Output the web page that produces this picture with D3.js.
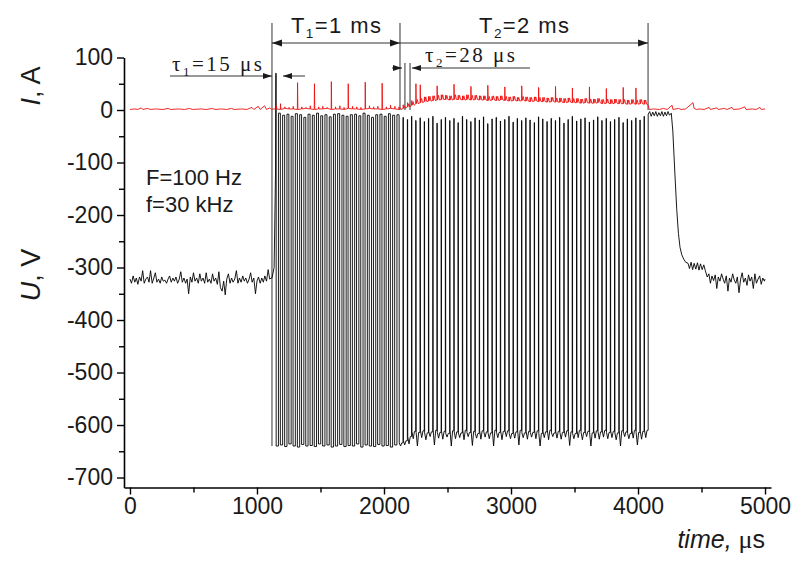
<!DOCTYPE html>
<html><head><meta charset="utf-8">
<script src="https://cdn.jsdelivr.net/npm/d3@7"></script>
<style>body{margin:0;background:#fff}svg{display:block}</style>
</head><body>
<svg id="chart" width="801" height="562"></svg>
<script>
// ---------------- DATA ----------------
const xTicksMajor = [0, 1000, 2000, 3000, 4000, 5000];
const xTicksMinor = [500, 1500, 2500, 3500, 4500];
const yTicksMajor = [100, 0, -100, -200, -300, -400, -500, -600, -700];
const yTicksMinor = [50, -50, -150, -250, -350, -450, -550, -650];

// voltage before the pulse train [time µs, U V]
const preVolt = [[0,-322],[12,-330],[25,-316],[38,-328],[50,-320],[62,-332],[75,-318],[88,-326],[100,-306],[112,-330],
 [125,-322],[138,-318],[150,-328],[162,-306],[175,-330],[188,-320],[200,-310],[212,-328],[225,-322],[238,-330],
 [250,-318],[262,-326],[275,-324],[288,-330],[300,-322],[312,-316],[325,-328],[338,-320],[350,-326],[362,-318],
 [375,-330],[388,-322],[400,-308],[412,-328],[425,-320],[438,-330],[450,-322],[462,-350],[475,-318],[488,-328],
 [500,-310],[512,-326],[525,-320],[538,-330],[550,-312],[562,-326],[575,-320],[588,-330],[600,-310],[612,-328],
 [625,-322],[638,-330],[650,-312],[662,-326],[675,-320],[688,-332],[700,-308],[712,-338],[725,-345],[738,-326],
 [750,-352],[762,-322],[775,-312],[788,-330],[800,-320],[812,-328],[825,-322],[838,-306],[850,-330],[862,-320],
 [875,-328],[888,-316],[900,-326],[912,-320],[925,-330],[938,-322],[950,-310],[962,-328],[975,-320],[988,-350],
 [1000,-326],[1012,-318],[1025,-330],[1038,-320],[1050,-328],[1062,-316],[1075,-326],[1088,-304],[1100,-322],[1112,-320]];
// leading edge of the train
const leadVolt = [[1118,-320],[1135,-300],[1146,-118],[1148,70],[1151,70]];

// T1 section pulses (30 kHz)
const pulseT1 = [1151,1184,1218,1251,1284,1318,1351,1384,1418,1451,
 1484,1517,1551,1584,1617,1651,1684,1717,1751,1784,
 1817,1851,1884,1917,1950,1984,2017,2050,2084];
const voltHighT1 = [-6,-10,-8,-12,-7,-9,-14,-8,-10,-6, -11,-9,-13,-8,-7,-10,-12,-9,-8,-11, -6,-10,-14,-9,-8,-12,-7,-10,-9];
const voltLowT1 = [-640,-638,-641,-636,-640,-642,-637,-640,-639,-641, -636,-640,-638,-642,-640,-637,-641,-639,-640,-636, -642,-638,-640,-641,-637,-640,-639,-642,-638];
const curBaseT1 = [2,1,3,2,2,1,2,3,2,1, 2,2,3,1,2,2,1,3,2,2, 1,2,3,2,2,1,2,3,2];
const curPeakT1 = [8,12,6,5,7,52,6,5,8,50, 6,7,5,54,6,8,5,50,7,6, 5,53,8,6,7,51,6,9,7];

// T2 section pulses
const pulseT2 = [2117,2150,2184,2217,2250,2284,2317,2350,2384,2417,
 2450,2483,2517,2550,2583,2617,2650,2683,2716,2750,
 2783,2816,2850,2883,2916,2950,2983,3016,3049,3083,
 3116,3149,3183,3216,3249,3283,3316,3349,3382,3416,
 3449,3482,3516,3549,3582,3616,3649,3682,3715,3749,
 3782,3815,3849,3882,3915,3949,3982,4015,4048];
const voltHighT2 = [-10,-14,-18,-12,-20,-15,-22,-16,-12,-25, -18,-14,-20,-16,-24,-12,-18,-22,-15,-19,
 -13,-26,-17,-14,-21,-18,-12,-23,-16,-20, -15,-19,-24,-13,-17,-22,-16,-20,-14,-25,
 -18,-12,-21,-17,-15,-23,-19,-13,-20,-16, -22,-18,-14,-24,-17,-20,-15,-19,-12];
const voltLowAT2 = [-634,-630,-622,-612,-614,-611,-615,-613,-610,-614, -612,-616,-611,-613,-615,-610,-614,-612,-616,-611,
 -613,-615,-610,-614,-612,-611,-616,-613,-610,-615, -612,-614,-611,-616,-613,-610,-615,-612,-614,-611,
 -613,-616,-610,-614,-612,-615,-611,-613,-610,-614, -612,-615,-611,-613,-616,-610,-614,-612,-610];
const voltLowBT2 = [-640,-638,-636,-626,-640,-624,-628,-622,-638,-625, -627,-623,-640,-626,-624,-628,-622,-639,-625,-627,
 -623,-626,-640,-624,-628,-622,-626,-625,-638,-624, -627,-623,-626,-640,-624,-628,-622,-625,-627,-623,
 -639,-626,-624,-628,-622,-640,-625,-627,-623,-626, -624,-628,-640,-622,-626,-625,-638,-627,-624];
const curBaseT2 = [1,3,6,9,12,14,16,17,18,19, 20,20,19,20,20,19,20,19,20,19,
 19,18,19,18,19,18,17,18,17,18, 17,16,17,16,16,15,16,15,15,14,
 15,14,14,13,14,13,13,14,12,13, 12,13,12,12,11,12,11,12,11];
const curRipT2 = [4,8,12,16,20,22,25,26,27,28, 29,28,27,29,28,27,29,28,28,27,
 27,26,27,26,27,26,25,26,24,26, 25,24,25,24,24,23,24,23,23,22,
 23,22,22,21,22,21,21,22,20,21, 20,21,20,20,19,20,19,20,19];
const curPeakT2 = [6,10,14,18,50,48,25,26,27,46, 29,28,27,49,28,27,29,45,28,27,
 27,47,26,26,27,44,25,26,24,46, 25,24,25,43,24,23,24,45,23,22,
 23,42,22,21,22,44,21,22,20,41, 20,21,20,43,19,20,42,20,19];

// voltage after the train
const postVolt = [[4080,-8],[4092,-3],[4104,-12],[4116,-4],[4128,-11],[4140,-3],[4152,-12],[4164,-5],[4176,-11],[4188,-3],
 [4200,-12],[4212,-4],[4224,-11],[4236,-3],[4248,-10],[4262,-6],[4274,-40],[4290,-120],[4305,-190],[4318,-235],
 [4331,-262],[4345,-276],[4360,-284],[4375,-290],[4394,-292],[4405,-302],[4418,-290],[4430,-304],[4442,-292],[4455,-303],
 [4468,-291],[4480,-305],[4492,-293],[4505,-304],[4518,-295],[4530,-306],[4545,-318],[4558,-312],[4570,-330],[4582,-316],
 [4595,-325],[4608,-314],[4620,-340],[4632,-318],[4645,-326],[4658,-312],[4670,-322],[4682,-330],[4695,-316],[4708,-345],
 [4720,-320],[4732,-328],[4745,-312],[4758,-324],[4770,-330],[4782,-318],[4795,-348],[4808,-322],[4820,-310],[4832,-328],
 [4845,-320],[4858,-334],[4870,-314],[4882,-326],[4895,-318],[4908,-340],[4920,-312],[4932,-330],[4945,-322],[4958,-316],
 [4970,-332],[4982,-320],[4995,-326],[5000,-322]];

// current before / after the train [time µs, I A]
const preCur = [[0,1],[40,2],[60,1],[90,4],[100,1],[140,3],[160,1],[200,2],[260,1],[300,3],[320,1],[380,2],[430,1],
 [470,3],[490,1],[560,2],[600,1],[650,3],[670,1],[720,2],[760,1],[800,3],[820,1],[880,2],[920,1],[960,5],[975,1],
 [1010,7],[1025,1],[1060,8],[1075,1],[1100,4],[1115,1],[1130,2],[1151,2]];
const postCur = [[4080,9],[4088,1],[4120,2],[4170,1],[4200,3],[4230,1],[4268,9],[4275,1],[4320,3],[4340,1],[4375,2],
 [4433,14],[4442,3],[4460,1],[4480,2],[4520,1],[4560,5],[4570,1],[4620,4],[4630,1],[4680,3],[4700,1],[4740,5],[4750,1],
 [4800,2],[4840,6],[4850,1],[4900,2],[4930,1],[4960,5],[4970,1],[5000,2]];

// annotation times
const markT = [1118, 2126, 4079];      // T1 start, T1/T2 boundary, T2 end
const tau1Marks = [315, 1118, 1205, 1378];
const tau2Marks = [2063, 2142, 2165, 2205, 2220, 3150];

// ---------------- CHART ----------------
const svg = d3.select('#chart');
const x = d3.scaleLinear().domain([-47, 5047]).range([124, 771]);
const y = d3.scaleLinear().domain([-719, 100]).range([487.5, 57.5]);
const SANS = '"Liberation Sans", Arial, sans-serif';
const SERIF = '"Liberation Serif", "Times New Roman", serif';

// build voltage path
const vPts = [];
const push = (arr, t, v) => arr.push([t, v]);
const hold = (arr, t) => arr.push([t, arr[arr.length - 1][1]]);
preVolt.forEach(p => vPts.push(p));
leadVolt.forEach(p => vPts.push(p));
pulseT1.forEach((t, k) => {
  hold(vPts, t);
  push(vPts, t, voltLowT1[k]);
  push(vPts, t + 18, voltLowT1[k]);
  push(vPts, t + 18, voltHighT1[k]);
});
pulseT2.forEach((t, k) => {
  hold(vPts, t);
  push(vPts, t, voltHighT2[k]);
  push(vPts, t + 2, voltHighT2[k]);
  push(vPts, t + 3, voltLowAT2[k]);
  push(vPts, t + 13, voltLowBT2[k]);
  push(vPts, t + 23, voltLowAT2[k]);
});
hold(vPts, 4080);
postVolt.forEach(p => vPts.push(p));

// build current path
const cPts = [];
preCur.forEach(p => cPts.push(p));
pulseT1.forEach((t, k) => {
  push(cPts, t, curBaseT1[k]);
  push(cPts, t + 1.5, curPeakT1[k]);
  push(cPts, t + 4, curBaseT1[k]);
});
pulseT2.forEach((t, k) => {
  push(cPts, t, curBaseT2[k]);
  push(cPts, t + 1.5, curPeakT2[k]);
  push(cPts, t + 4, curBaseT2[k]);
  push(cPts, t + 12, curRipT2[k]);
  push(cPts, t + 20, curBaseT2[k]);
});
postCur.forEach(p => cPts.push(p));

const line = d3.line().x(d => x(d[0])).y(d => y(d[1]));

const ink = '#1a1a1a';
// annotation vertical marker lines
const gA = svg.append('g').attr('stroke', '#333').attr('stroke-width', 1).attr('fill', 'none');
gA.append('line').attr('x1', x(markT[0])).attr('x2', x(markT[0])).attr('y1', 23).attr('y2', y(-640));
gA.append('line').attr('x1', x(markT[1])).attr('x2', x(markT[1])).attr('y1', 23).attr('y2', y(0));
gA.append('line').attr('x1', x(markT[2])).attr('x2', x(markT[2])).attr('y1', 23).attr('y2', y(0));
gA.append('line').attr('x1', x(tau2Marks[2])).attr('x2', x(tau2Marks[2])).attr('y1', 63).attr('y2', y(0));
gA.append('line').attr('x1', x(tau2Marks[3])).attr('x2', x(tau2Marks[3])).attr('y1', 63).attr('y2', y(0));

// traces
svg.append('path').attr('d', line(vPts)).attr('fill', 'none').attr('stroke', '#000').attr('stroke-width', 0.9);
svg.append('path').attr('d', line(cPts)).attr('fill', 'none').attr('stroke', '#ee1111').attr('stroke-width', 0.9);

// arrows
function head(g, tipX, yy, dir, L = 10, W = 3.5) {
  g.append('path').attr('d', `M${tipX},${yy} L${tipX - dir * L},${yy - W} L${tipX - dir * L},${yy + W} Z`)
    .attr('fill', ink).attr('stroke', 'none');
}
const gR = svg.append('g');
function hline(x1, x2, yy) {
  gR.append('line').attr('x1', x1).attr('x2', x2).attr('y1', yy).attr('y2', yy).attr('stroke', '#333').attr('stroke-width', 1);
}
// T1 / T2
const yT = 43;
hline(x(markT[0]), x(markT[1]), yT);
head(gR, x(markT[0]), yT, -1); head(gR, x(markT[1]), yT, 1);
hline(x(markT[1]), x(markT[2]), yT);
head(gR, x(markT[2]), yT, 1);
// tau1
const yt1 = 76;
hline(x(tau1Marks[0]), x(tau1Marks[1]), yt1); head(gR, x(tau1Marks[1]), yt1, 1, 9, 3);
hline(x(tau1Marks[2]), x(tau1Marks[3]), yt1); head(gR, x(tau1Marks[2]), yt1, -1, 9, 3);
// tau2
const yt2 = 68;
hline(x(tau2Marks[0]), x(tau2Marks[1]), yt2); head(gR, x(tau2Marks[1]), yt2, 1, 9, 3);
hline(x(tau2Marks[4]), x(tau2Marks[5]), yt2); head(gR, x(tau2Marks[4]), yt2, -1, 9, 3);

// annotation texts
function subText(g, xx, yy, parts, font, size, anchor, len) {
  const t = g.append('text').attr('x', xx).attr('y', yy).attr('font-family', font).attr('font-size', size)
    .attr('text-anchor', anchor).attr('fill', ink);
  if (len) t.attr('textLength', len).attr('lengthAdjust', 'spacing');
  parts.forEach(p => {
    const s = t.append('tspan').text(p.t);
    if (p.sub) s.attr('font-size', size * 0.62).attr('dy', size * 0.22);
    if (p.up) s.attr('dy', -size * 0.22);
  });
  return t;
}
subText(svg, x((markT[0] + markT[1]) / 2), 33, [{t:'T'},{t:'1',sub:1},{t:'=1 ms',up:1}], SANS, 22, 'middle', 90);
subText(svg, x((markT[1] + markT[2]) / 2), 33, [{t:'T'},{t:'2',sub:1},{t:'=2 ms',up:1}], SANS, 22, 'middle', 90);
subText(svg, 172, 71, [{t:'τ'},{t:'1',sub:1},{t:'=15 μs',up:1}], SERIF, 21, 'start', 90);
subText(svg, 425, 62, [{t:'τ'},{t:'2',sub:1},{t:'=28 μs',up:1}], SERIF, 21, 'start', 90);

svg.append('text').attr('x', 146).attr('y', 185).attr('font-family', SANS).attr('font-size', 22)
  .attr('fill', ink).text('F=100 Hz');
svg.append('text').attr('x', 146).attr('y', 212).attr('font-family', SANS).attr('font-size', 22)
  .attr('fill', ink).text('f=30 kHz');

// axes
const gx = svg.append('g').attr('transform', `translate(0,${y.range()[0]})`);
gx.call(d3.axisBottom(x).tickValues(xTicksMajor).tickSize(7).tickSizeOuter(0).tickPadding(3).tickFormat(d3.format('d')));
gx.call(g => g.append('g').call(d3.axisBottom(x).tickValues(xTicksMinor).tickSize(5).tickSizeOuter(0).tickFormat('')).select('.domain').remove());
const gy = svg.append('g').attr('transform', `translate(${x.range()[0]},0)`);
gy.call(d3.axisLeft(y).tickValues(yTicksMajor).tickSize(7).tickSizeOuter(0).tickPadding(4).tickFormat(d => d < 0 ? '-' + Math.abs(d) : d));
gy.call(g => g.append('g').call(d3.axisLeft(y).tickValues(yTicksMinor).tickSize(5).tickSizeOuter(0).tickFormat('')).select('.domain').remove());
svg.selectAll('.domain').attr('stroke', '#000').attr('stroke-width', 1.6);
svg.selectAll('.tick line').attr('stroke', '#000').attr('stroke-width', 1.4);
svg.selectAll('.tick text').attr('font-family', SANS).attr('font-size', 23).attr('fill', ink);

// axis titles
const tI = svg.append('text').attr('transform', 'translate(40,86) rotate(-90)').attr('text-anchor', 'middle')
  .attr('font-family', SANS).attr('font-size', 27).attr('fill', ink);
tI.append('tspan').attr('font-style', 'italic').text('I');
tI.append('tspan').text(', A');
const tU = svg.append('text').attr('transform', 'translate(40,275) rotate(-90)').attr('text-anchor', 'middle')
  .attr('font-family', SANS).attr('font-size', 27).attr('fill', ink);
tU.append('tspan').attr('font-style', 'italic').text('U');
tU.append('tspan').text(', V');
const tX = svg.append('text').attr('x', 765).attr('y', 548).attr('text-anchor', 'end')
  .attr('font-family', SANS).attr('font-size', 25).attr('fill', ink);
tX.append('tspan').attr('font-style', 'italic').text('time, ');
tX.append('tspan').attr('font-family', SERIF).attr('font-size', 26).text('μ');
tX.append('tspan').text('s');
</script>
</body></html>
